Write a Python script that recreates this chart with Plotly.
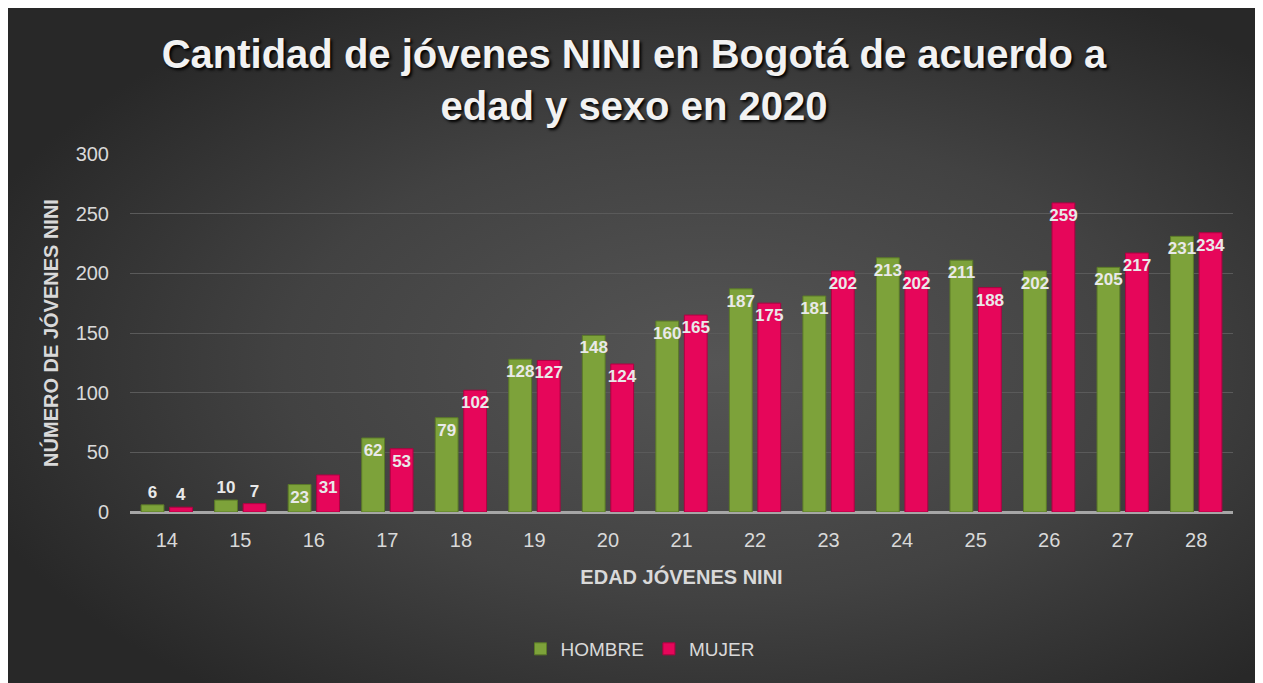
import base64
import plotly.graph_objects as go

edades = ["14", "15", "16", "17", "18", "19", "20", "21", "22", "23", "24", "25", "26", "27", "28"]
hombre = [6, 10, 23, 62, 79, 128, 148, 160, 187, 181, 213, 211, 202, 205, 231]
mujer = [4, 7, 31, 53, 102, 127, 124, 165, 175, 202, 202, 188, 259, 217, 234]
y_ticks = [0, 50, 100, 150, 200, 250, 300]

W, H = 1263, 683
L, R, T, B = 122, 38, 146, 179
pw, ph = W - L - R, H - T - B

SANS = "Liberation Sans, Arial, sans-serif"

svg = f"""<svg xmlns='http://www.w3.org/2000/svg' width='{W}' height='{H}' viewBox='0 0 {W} {H}' preserveAspectRatio='none'>
<defs><radialGradient id='g' cx='56%' cy='52%' r='62%'>
<stop offset='0' stop-color='#555555'/><stop offset='0.55' stop-color='#424242'/><stop offset='1' stop-color='#282828'/>
</radialGradient></defs><rect width='{W}' height='{H}' fill='url(#g)'/></svg>"""
src = "data:image/svg+xml;base64," + base64.b64encode(svg.encode()).decode()


def pos(vals):
    return ["outside" if v < 20 else "inside" for v in vals]


label_font = dict(family=SANS, size=17, color="#e9e9e9", weight="bold")

fig = go.Figure()
fig.add_trace(go.Bar(
    name="HOMBRE", x=edades, y=hombre, text=[str(v) for v in hombre],
    textposition=pos(hombre), insidetextanchor="end", constraintext="none", textangle=0,
    marker=dict(color="#7da23a", line=dict(color="#5b7a28", width=1)),
    textfont=label_font, outsidetextfont=label_font, insidetextfont=label_font,
    cliponaxis=False,
))
fig.add_trace(go.Bar(
    name="MUJER", x=edades, y=mujer, text=[str(v) for v in mujer],
    textposition=pos(mujer), insidetextanchor="end", constraintext="none", textangle=0,
    marker=dict(color="#e6065a", line=dict(color="#b00042", width=1)),
    textfont=label_font, outsidetextfont=label_font, insidetextfont=label_font,
    cliponaxis=False,
))

fig.update_layout(
    width=W, height=H,
    margin=dict(l=L, r=R, t=T, b=B, autoexpand=False),
    paper_bgcolor="#2e2e2e", plot_bgcolor="rgba(0,0,0,0)",
    barmode="group", bargap=0.225, bargroupgap=0.2,
    title=dict(
        text="Cantidad de jóvenes NINI en Bogotá de acuerdo a<br>edad y sexo en 2020",
        x=626 / W, xref="container", xanchor="center", y=1 - 60 / H, yanchor="middle",
        font=dict(family=SANS, size=40, color="#f2f2f2", weight="bold",
                  shadow="2px 2px 3px #000000"),
    ),
    images=[dict(source=src, xref="paper", yref="paper",
                 x=-L / pw, y=1 + T / ph, sizex=W / pw, sizey=H / ph,
                 xanchor="left", yanchor="top", sizing="stretch", layer="below")],
    legend=dict(orientation="h", x=632 / W, xref="container", xanchor="center",
                y=(504 - 641) / ph, yanchor="middle",
                font=dict(family=SANS, size=19, color="#d9d9d9"), bgcolor="rgba(0,0,0,0)",
                traceorder="normal"),
    xaxis=dict(
        type="category", showgrid=False, showline=False, zeroline=False,
        tickfont=dict(family=SANS, size=20, color="#d9d9d9"), ticklabelstandoff=14,
        title=dict(text="EDAD JÓVENES NINI", standoff=19,
                   font=dict(family=SANS, size=20, color="#d9d9d9", weight="bold")),
    ),
    yaxis=dict(
        range=[0, 300], tickvals=y_ticks, showgrid=True, gridcolor="#5a5a5a", gridwidth=1,
        zeroline=True, zerolinecolor="#a6a6a6", zerolinewidth=3, showline=False,
        tickfont=dict(family=SANS, size=20, color="#d9d9d9"), ticklabelstandoff=20,
        title=dict(text="NÚMERO DE JÓVENES NINI", standoff=11,
                   font=dict(family=SANS, size=20, color="#d9d9d9", weight="bold")),
    ),
)

fig.write_html("out.html")
